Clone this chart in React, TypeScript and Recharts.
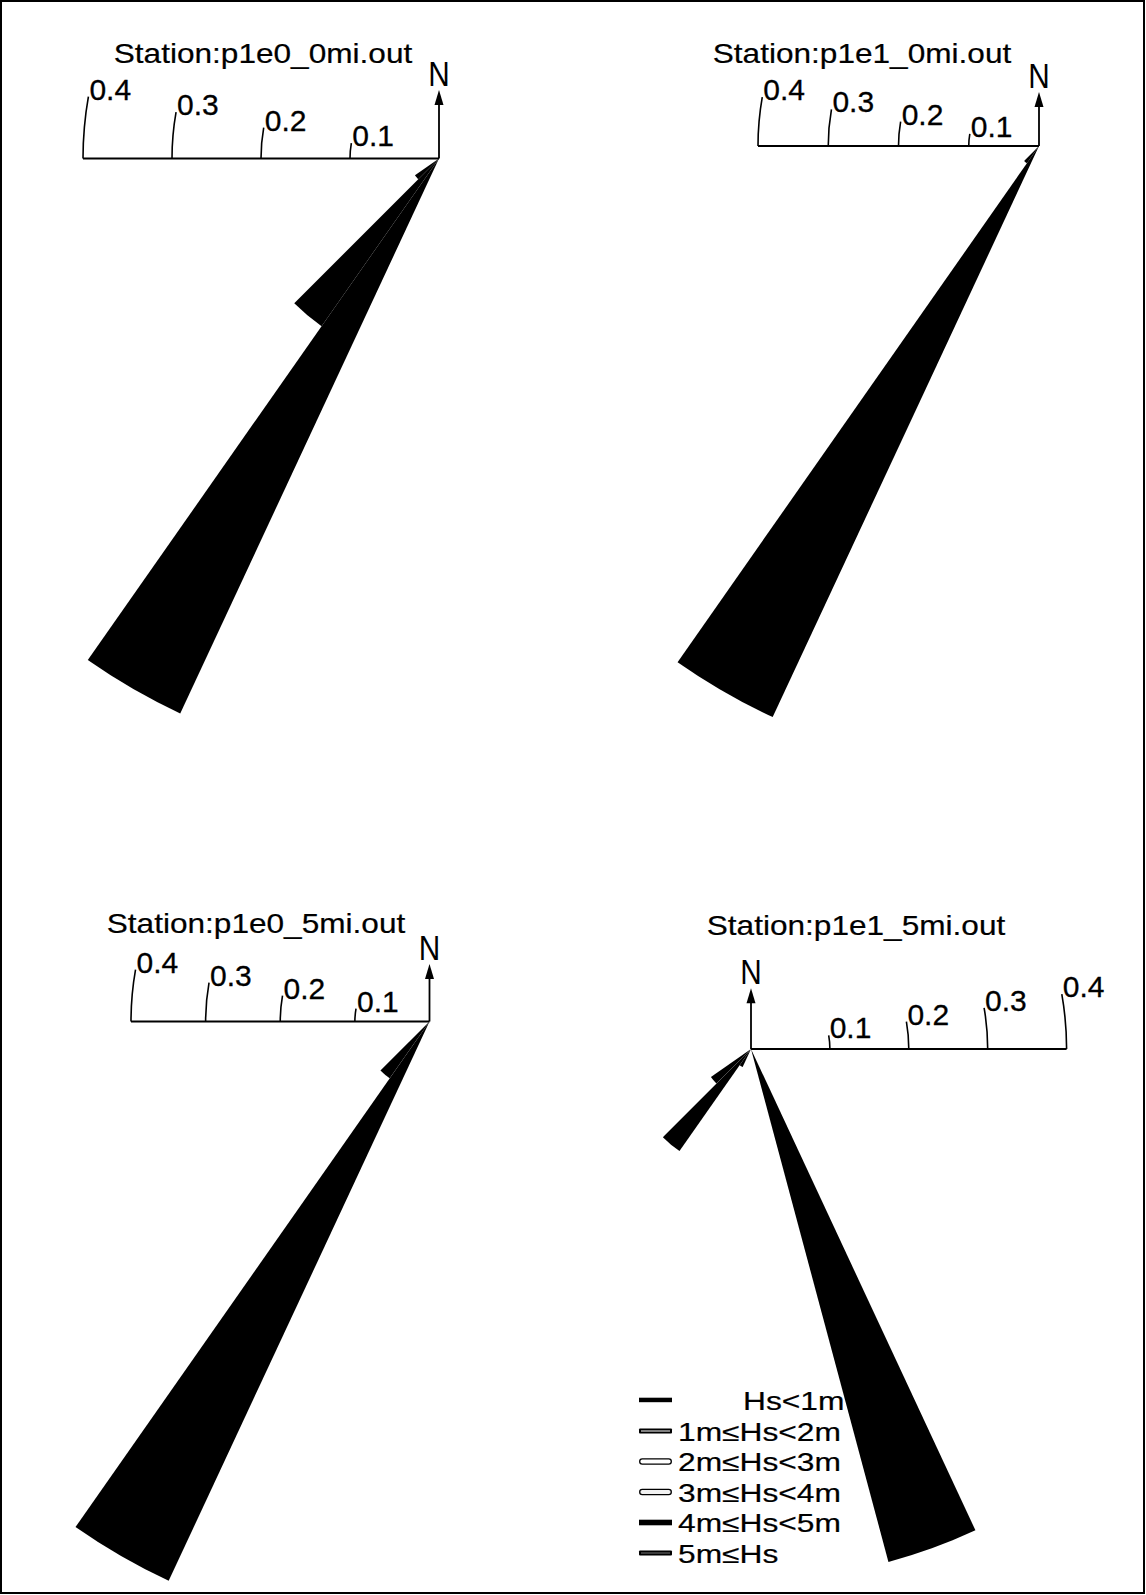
import { RadialBarChart, RadialBar, PolarAngleAxis, PolarRadiusAxis } from 'recharts';

// 10-degree direction bins, compass bearing (clockwise from north)
const directions = [
  '0', '10', '20', '30', '40', '50', '60', '70', '80', '90', '100', '110',
  '120', '130', '140', '150', '160', '170', '180', '190', '200', '210', '220', '230',
  '240', '250', '260', '270', '280', '290', '300', '310', '320', '330', '340', '350',
];

// fraction of occurrence per direction bin
const p1e0_0mi = [
  0, 0, 0, 0, 0, 0, 0, 0, 0, 0, 0, 0,
  0, 0, 0, 0, 0, 0, 0, 0, 0, 0.688, 0.23, 0.033,
  0, 0, 0, 0, 0, 0, 0, 0, 0, 0, 0, 0,
];
const p1e1_0mi = [
  0, 0, 0, 0, 0, 0, 0, 0, 0, 0, 0, 0,
  0, 0, 0, 0, 0, 0, 0, 0, 0, 0.897, 0.03, 0,
  0, 0, 0, 0, 0, 0, 0, 0, 0, 0, 0, 0,
];
const p1e0_5mi = [
  0, 0, 0, 0, 0, 0, 0, 0, 0, 0, 0, 0,
  0, 0, 0, 0, 0, 0, 0, 0, 0, 0.827, 0.093, 0,
  0, 0, 0, 0, 0, 0, 0, 0, 0, 0, 0, 0,
];
const p1e1_5mi = [
  0, 0, 0, 0, 0, 0, 0, 0, 0, 0, 0, 0,
  0, 0, 0, 0, 0.673, 0, 0, 0, 0, 0.025, 0.158, 0.062,
  0, 0, 0, 0, 0, 0, 0, 0, 0, 0, 0, 0,
];

const radiusTicks = [0, 0.1, 0.2, 0.3, 0.4];
const hsBins = ['Hs<1m', '1m≤Hs<2m', '2m≤Hs<3m', '3m≤Hs<4m', '4m≤Hs<5m', '5m≤Hs'];

const W = 1146;
const H = 1595;
const FONT = '"Liberation Sans", Arial, Helvetica, sans-serif';

type Panel = {
  title: string;
  values: number[];
  cx: number;
  cy: number;
  r04: number; // pixel radius of the 0.4 ring
  side: 'W' | 'E';
  titleX: number;
  titleY: number;
};

const panels: Panel[] = [
  { title: 'Station:p1e0_0mi.out', values: p1e0_0mi, cx: 439, cy: 158.5, r04: 356, side: 'W', titleX: 263, titleY: 63 },
  { title: 'Station:p1e1_0mi.out', values: p1e1_0mi, cx: 1039, cy: 146, r04: 281, side: 'W', titleX: 862, titleY: 62.5 },
  { title: 'Station:p1e0_5mi.out', values: p1e0_5mi, cx: 429.5, cy: 1021.5, r04: 298.5, side: 'W', titleX: 256, titleY: 933 },
  { title: 'Station:p1e1_5mi.out', values: p1e1_5mi, cx: 751, cy: 1049, r04: 315.6, side: 'E', titleX: 856, titleY: 935 },
];

const RoseTick = ({ x, y, payload, cx, cy, side }: any) => {
  const r = Math.hypot(x - cx, y - cy);
  if (r < 1) return null;
  // tick is a short 10-degree piece of the ring, bending toward north
  const a = ((side === 'W' ? 170 : 10) * Math.PI) / 180;
  const sx = side === 'W' ? cx - r : cx + r;
  const ex = cx + r * Math.cos(a);
  const ey = cy - r * Math.sin(a);
  return (
    <g>
      <path
        d={`M${sx},${cy} A${r},${r} 0 0 ${side === 'W' ? 1 : 0} ${ex},${ey}`}
        fill="none"
        stroke="#000"
        strokeWidth={1.6}
      />
      <text x={ex + 1} y={ey + 3} fontSize={30} fontFamily={FONT} fill="#000" stroke="#000" strokeWidth={0.3}>
        {String(payload.value)}
      </text>
    </g>
  );
};

const NorthArrow = ({ cx, cy, r04 }: { cx: number; cy: number; r04: number }) => {
  const len = (0.077 / 0.4) * r04;
  const tip = cy - len;
  return (
    <g>
      <line x1={cx} y1={cy} x2={cx} y2={tip + 12} stroke="#000" strokeWidth={1.8} />
      <polygon points={`${cx},${tip} ${cx - 4.5},${tip + 15} ${cx + 4.5},${tip + 15}`} fill="#000" />
      <text
        transform={`translate(${cx},${tip - 4}) scale(0.85,1)`}
        textAnchor="middle"
        fontSize={35}
        fontFamily={FONT}
        fill="#000"
      >
        N
      </text>
    </g>
  );
};

const Swatch = ({ kind, x, y }: { kind: number; x: number; y: number }) => {
  const w = 33;
  if (kind === 0 || kind === 4) {
    return <rect x={x} y={y - 2.8} width={w} height={kind === 0 ? 4.5 : 5.6} fill="#000" />;
  }
  if (kind === 1 || kind === 5) {
    return (
      <g>
        <rect x={x} y={y - 2.6} width={w} height={5.2} fill="#000" rx={1} />
        <line x1={x + 2} y1={y} x2={x + w - 2} y2={y} stroke={kind === 1 ? '#fff' : '#777'} strokeWidth={1} />
      </g>
    );
  }
  return (
    <rect x={x + 0.7} y={y - 2.6} width={w - 1.4} height={5.2} rx={2.6} fill={kind === 3 ? '#f2f2f2' : '#fff'} stroke="#000" strokeWidth={1.3} />
  );
};

const Overlay = () => (
  <svg width={W} height={H} style={{ position: 'absolute', left: 0, top: 0 }}>
    <rect x={1} y={1} width={W - 3} height={H - 3} fill="none" stroke="#000" strokeWidth={2} />
    {panels.map((p) => (
      <g key={p.title}>
        <text
          transform={`translate(${p.titleX},${p.titleY}) scale(1.17,1)`}
          textAnchor="middle"
          fontSize={27}
          fontFamily={FONT}
          fill="#000"
          stroke="#000"
          strokeWidth={0.2}
        >
          {p.title}
        </text>
        <NorthArrow cx={p.cx} cy={p.cy} r04={p.r04} />
      </g>
    ))}
    {hsBins.map((label, i) => {
      const base = 1410 + i * 30.5;
      return (
        <g key={label}>
          <Swatch kind={i} x={639} y={base - 9.5} />
          <text
            transform={`translate(${i === 0 ? 743 : 678},${base}) scale(1.27,1)`}
            fontSize={25}
            fontFamily={FONT}
            fill="#000"
            stroke="#000"
            strokeWidth={0.2}
          >
            {label}
          </text>
        </g>
      );
    })}
  </svg>
);

const Rose = ({ p }: { p: Panel }) => {
  const data = directions.map((dir, i) => ({ dir, frac: p.values[i] }));
  return (
    <div style={{ position: 'absolute', left: 0, top: 0 }}>
      <RadialBarChart
        width={W}
        height={H}
        data={data}
        cx={p.cx}
        cy={p.cy}
        innerRadius={0}
        outerRadius={p.r04}
        startAngle={85}
        endAngle={-275}
        layout="centric"
        barCategoryGap={0}
        barGap={0}
        margin={{ top: 0, right: 0, bottom: 0, left: 0 }}
      >
        <PolarAngleAxis dataKey="dir" type="category" tick={false} axisLine={false} tickLine={false} />
        <PolarRadiusAxis
          type="number"
          domain={[0, 0.4]}
          allowDataOverflow
          ticks={radiusTicks}
          angle={p.side === 'W' ? 180 : 0}
          axisLine={{ stroke: '#000', strokeWidth: 1.8 }}
          tickLine={false}
          tick={(t: any) => <RoseTick x={t.x} y={t.y} payload={t.payload} cx={p.cx} cy={p.cy} side={p.side} />}
        />
        <RadialBar dataKey="frac" fill="#000" stroke="none" isAnimationActive={false} />
      </RadialBarChart>
    </div>
  );
};

export default function App() {
  return (
    <div style={{ position: 'relative', width: W, height: H, background: '#fff', overflow: 'hidden' }}>
      <style>{'body{margin:0}'}</style>
      <Overlay />
      {panels.map((p) => (
        <Rose key={p.title} p={p} />
      ))}
    </div>
  );
}
